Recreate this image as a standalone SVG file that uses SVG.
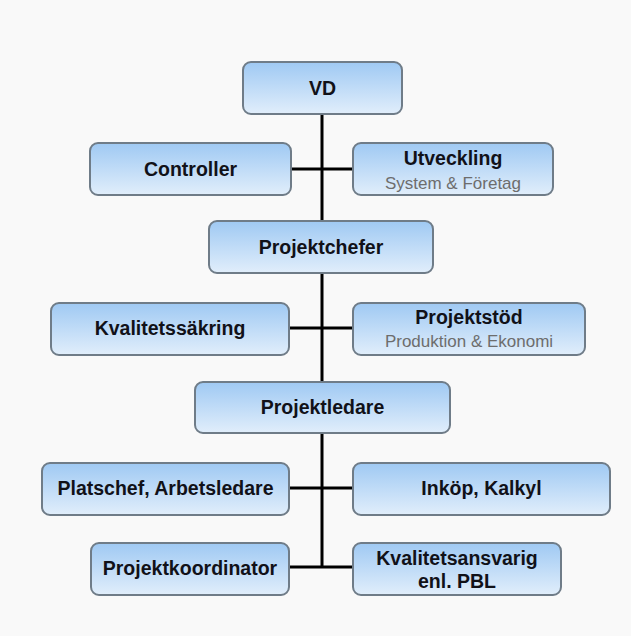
<svg xmlns="http://www.w3.org/2000/svg" width="631" height="636" viewBox="0 0 631 636">
  <defs>
    <linearGradient id="boxFill" x1="0" y1="0" x2="0" y2="1">
      <stop offset="0" stop-color="#9fc9f3"/>
      <stop offset="1" stop-color="#e1eefb"/>
    </linearGradient>
  </defs>
  <style>
    .box { fill: url(#boxFill); stroke: #6f7c88; stroke-width: 2; }
    .title { font-family: "Liberation Sans", Arial, sans-serif; font-weight: bold; font-size: 19.5px; fill: #111118; text-anchor: middle; }
    .sub { font-family: "Liberation Sans", Arial, sans-serif; font-size: 17px; fill: #6d6d6d; text-anchor: middle; }
    .conn { stroke: #000; stroke-width: 3; fill: none; }
  </style>

  <rect width="631" height="636" fill="#f9f9f9"/>

  <!-- connectors: central spine with side branches -->
  <g id="connectors">
    <line class="conn" x1="322" y1="114" x2="322" y2="568"/>
    <line class="conn" x1="291" y1="169" x2="353" y2="169"/>
    <line class="conn" x1="289" y1="328" x2="353" y2="328"/>
    <line class="conn" x1="289" y1="488" x2="353" y2="488"/>
    <line class="conn" x1="289" y1="567" x2="353" y2="567"/>
  </g>

  <g id="vd">
    <rect class="box" x="243" y="62" width="159" height="52" rx="8"/>
    <text class="title" x="322.5" y="95">VD</text>
  </g>

  <g id="controller">
    <rect class="box" x="90" y="143" width="201" height="52" rx="8"/>
    <text class="title" x="190.5" y="176">Controller</text>
  </g>

  <g id="utveckling">
    <rect class="box" x="353" y="143" width="200" height="52" rx="8"/>
    <text class="title" x="453" y="165">Utveckling</text>
    <text class="sub" x="453" y="189">System &amp; Företag</text>
  </g>

  <g id="projektchefer">
    <rect class="box" x="209" y="221" width="224" height="52" rx="8"/>
    <text class="title" x="321" y="254">Projektchefer</text>
  </g>

  <g id="kvalitetssakring">
    <rect class="box" x="51" y="303" width="238" height="52" rx="8"/>
    <text class="title" x="170" y="335">Kvalitetssäkring</text>
  </g>

  <g id="projektstod">
    <rect class="box" x="353" y="303" width="232" height="52" rx="8"/>
    <text class="title" x="469" y="324">Projektstöd</text>
    <text class="sub" x="469" y="347">Produktion &amp; Ekonomi</text>
  </g>

  <g id="projektledare">
    <rect class="box" x="195" y="382" width="255" height="51" rx="8"/>
    <text class="title" x="322.5" y="414">Projektledare</text>
  </g>

  <g id="platschef">
    <rect class="box" x="42" y="463" width="247" height="52" rx="8"/>
    <text class="title" x="165.5" y="495">Platschef, Arbetsledare</text>
  </g>

  <g id="inkop">
    <rect class="box" x="353" y="463" width="257" height="52" rx="8"/>
    <text class="title" x="481.5" y="495">Inköp, Kalkyl</text>
  </g>

  <g id="projektkoordinator">
    <rect class="box" x="91" y="543" width="198" height="52" rx="8"/>
    <text class="title" x="190" y="575">Projektkoordinator</text>
  </g>

  <g id="kvalitetsansvarig">
    <rect class="box" x="353" y="543" width="208" height="52" rx="8"/>
    <text class="title" x="457" y="565">Kvalitetsansvarig</text>
    <text class="title" x="457" y="588">enl. PBL</text>
  </g>
</svg>
